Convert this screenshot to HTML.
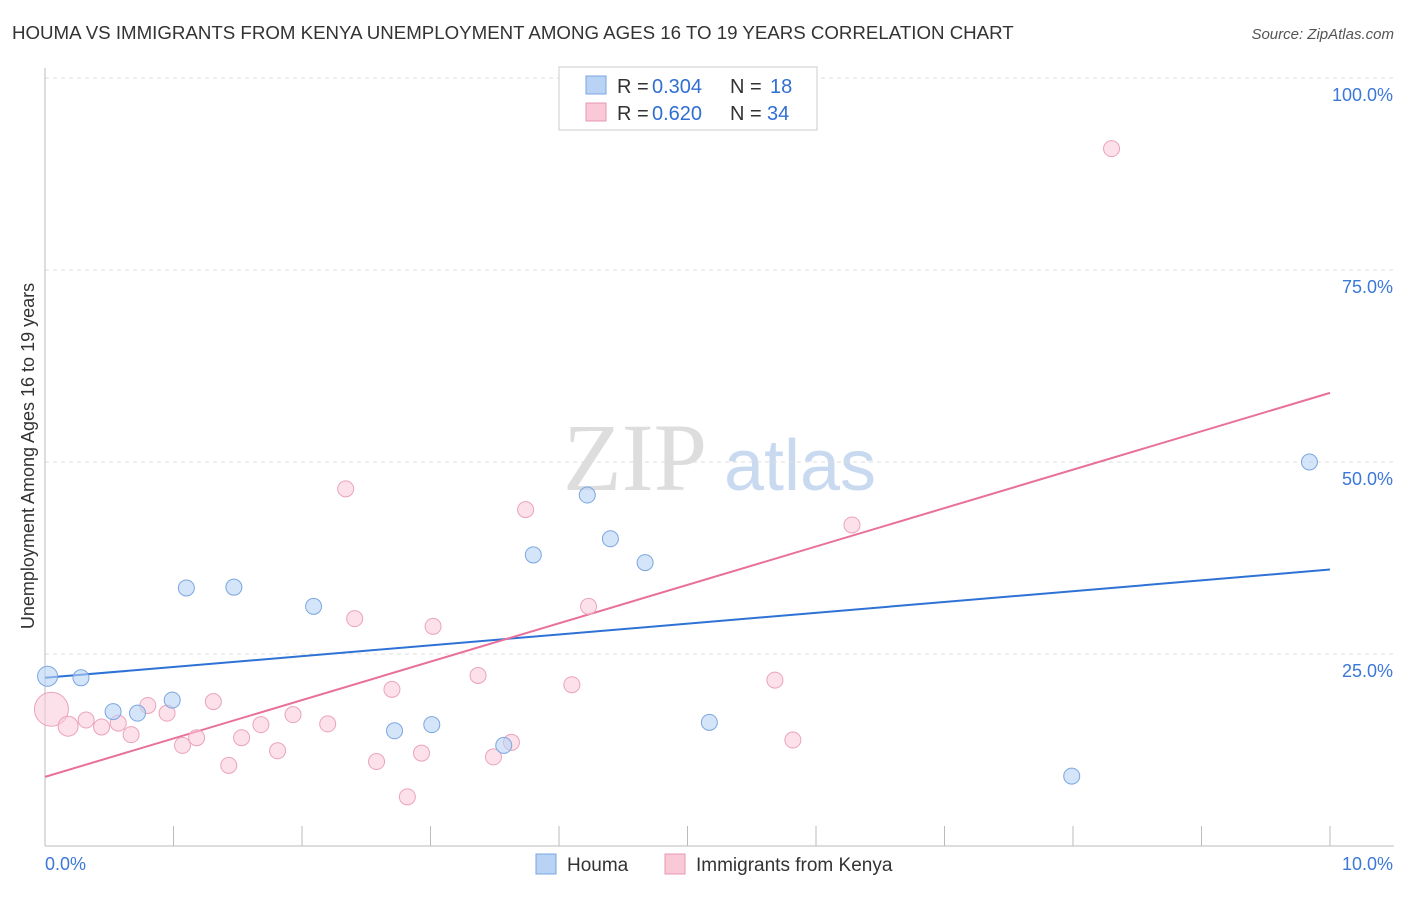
<!DOCTYPE html>
<html><head><meta charset="utf-8"><style>
body{margin:0;background:#fff;width:1406px;height:892px;overflow:hidden;font-family:"Liberation Sans",sans-serif}
svg text{font-family:"Liberation Sans",sans-serif}
</style></head><body>
<svg id="chart" width="1406" height="892">
<text x="12" y="39" font-size="18.7" fill="#333">HOUMA VS IMMIGRANTS FROM KENYA UNEMPLOYMENT AMONG AGES 16 TO 19 YEARS CORRELATION CHART</text>
<text x="1394" y="39" font-size="15" fill="#555" font-style="italic" text-anchor="end">Source: ZipAtlas.com</text>
<g><text x="635" y="490" font-size="96" fill="#ddd" style="font-family:'Liberation Serif',serif" text-anchor="middle">ZIP</text><text x="800" y="490" font-size="72" fill="#c9daf0" text-anchor="middle">atlas</text></g>
<g id="grid"></g>
<g id="axes"></g>
<g id="lines"></g>
<g id="pts"></g>
<text transform="translate(34,456) rotate(-90)" font-size="18" fill="#333" text-anchor="middle">Unemployment Among Ages 16 to 19 years</text>
<g>
<rect x="559" y="67" width="258" height="63" fill="#fff" stroke="#ccc"/>
<rect x="586" y="76" width="20" height="18" fill="#b9d3f5" stroke="#7aa6e0"/>
<text x="617" y="93" font-size="20" fill="#333">R =</text>
<text x="652" y="93" font-size="20" fill="#2f6fd4">0.304</text>
<text x="730" y="93" font-size="20" fill="#333">N =</text>
<text x="770" y="93" font-size="20" fill="#2f6fd4">18</text>
<rect x="586" y="103" width="20" height="18" fill="#f9c9d8" stroke="#e897b0"/>
<text x="617" y="120" font-size="20" fill="#333">R =</text>
<text x="652" y="120" font-size="20" fill="#2f6fd4">0.620</text>
<text x="730" y="120" font-size="20" fill="#333">N =</text>
<text x="767" y="120" font-size="20" fill="#2f6fd4">34</text>
</g>
<g>
<rect x="536" y="854" width="20" height="20" fill="#b9d3f5" stroke="#7aa6e0"/>
<text x="567" y="871" font-size="19" fill="#333">Houma</text>
<rect x="665" y="854" width="20" height="20" fill="#f9c9d8" stroke="#e897b0"/>
<text x="696" y="871" font-size="19" fill="#333">Immigrants from Kenya</text>
</g>
</svg>
<script>
const xTicks=[0,1,2,3,4,5,6,7,8,9,10];
const yTicks=[25,50,75,100];
const houmaX=[0.02,0.28,1.1,1.47,2.09,0.53,0.72,0.99,2.72,3.01,3.57,3.8,4.22,4.4,4.67,5.17,7.99,9.84];
const houmaY=[22.1,21.9,33.6,33.7,31.2,17.5,17.3,19.0,15.0,15.8,13.1,37.9,45.7,40.0,36.9,16.1,9.1,50.0];
const kenyaX=[0.05,0.18,0.32,0.44,0.57,0.67,0.8,0.95,1.07,1.18,1.31,1.43,1.53,1.68,1.81,1.93,2.2,2.34,2.41,2.58,2.7,2.82,2.93,3.02,3.37,3.49,3.63,3.74,4.1,4.23,5.68,5.82,6.28,8.3];
const kenyaY=[17.8,15.6,16.4,15.5,16.0,14.5,18.3,17.3,13.1,14.1,18.8,10.5,14.1,15.8,12.4,17.1,15.9,46.5,29.6,11.0,20.4,6.4,12.1,28.6,22.2,11.6,13.5,43.8,21.0,31.2,21.6,13.8,41.8,90.8];
const houmaR=[10,8,8,8,8,8,8,8,8,8,8,8,8,8,8,8,8,8];
const blueTrend=[21.9,36.0];
const pinkTrend=[9.0,59.0];
const X=v=>45+v*128.5, Y=v=>846-v*7.68;
const NS='http://www.w3.org/2000/svg';
function mk(t,a,p){const e=document.createElementNS(NS,t);for(const k in a)e.setAttribute(k,a[k]);document.getElementById(p).appendChild(e);return e;}
yTicks.forEach(t=>{
 const l=mk('line',{x1:45,x2:1394,y1:Y(t),y2:Y(t),stroke:'#ddd','stroke-dasharray':'4,4'},'grid');
 
 
 const tx=mk('text',{x:1393,y:Y(t)+23,'font-size':18,fill:'#3b78d8','text-anchor':'end'},'axes');tx.textContent=t.toFixed(1)+'%';
 
 
});
const ax=mk('line',{x1:45,x2:1394,y1:846,y2:846,stroke:'#bbb'},'axes');


const ay=mk('line',{x1:45,x2:45,y1:68,y2:846,stroke:'#bbb'},'axes');


xTicks.forEach(t=>{
 const l=mk('line',{x1:X(t),x2:X(t),y1:826,y2:846,stroke:'#bbb'},'axes');
 
 
});
[[0,'start',45],[10,'end',1393]].forEach(([t,a,x])=>{
 const tx=mk('text',{x:x,y:870,'font-size':18,fill:'#3b78d8','text-anchor':a},'axes');tx.textContent=t.toFixed(1)+'%';
 
 
});
kenyaX.forEach((v,i)=>{
 const c=mk('circle',{cx:X(v),cy:Y(kenyaY[i]),r:i==0?17:(i==1?10:8),fill:'rgba(249,201,216,0.55)',stroke:'#eba3bb'},'pts');
 
 
});
houmaX.forEach((v,i)=>{
 const c=mk('circle',{cx:X(v),cy:Y(houmaY[i]),r:houmaR[i],fill:'rgba(185,211,245,0.6)',stroke:'#7aa6e0'},'pts');
 
 
});
const bl=mk('line',{x1:X(0),x2:X(10),y1:Y(blueTrend[0]),y2:Y(blueTrend[1]),stroke:'#2f72d6','stroke-width':2},'lines');


const pl=mk('line',{x1:X(0),x2:X(10),y1:Y(pinkTrend[0]),y2:Y(pinkTrend[1]),stroke:'#e8709a','stroke-width':2},'lines');


</script>
</body></html>
